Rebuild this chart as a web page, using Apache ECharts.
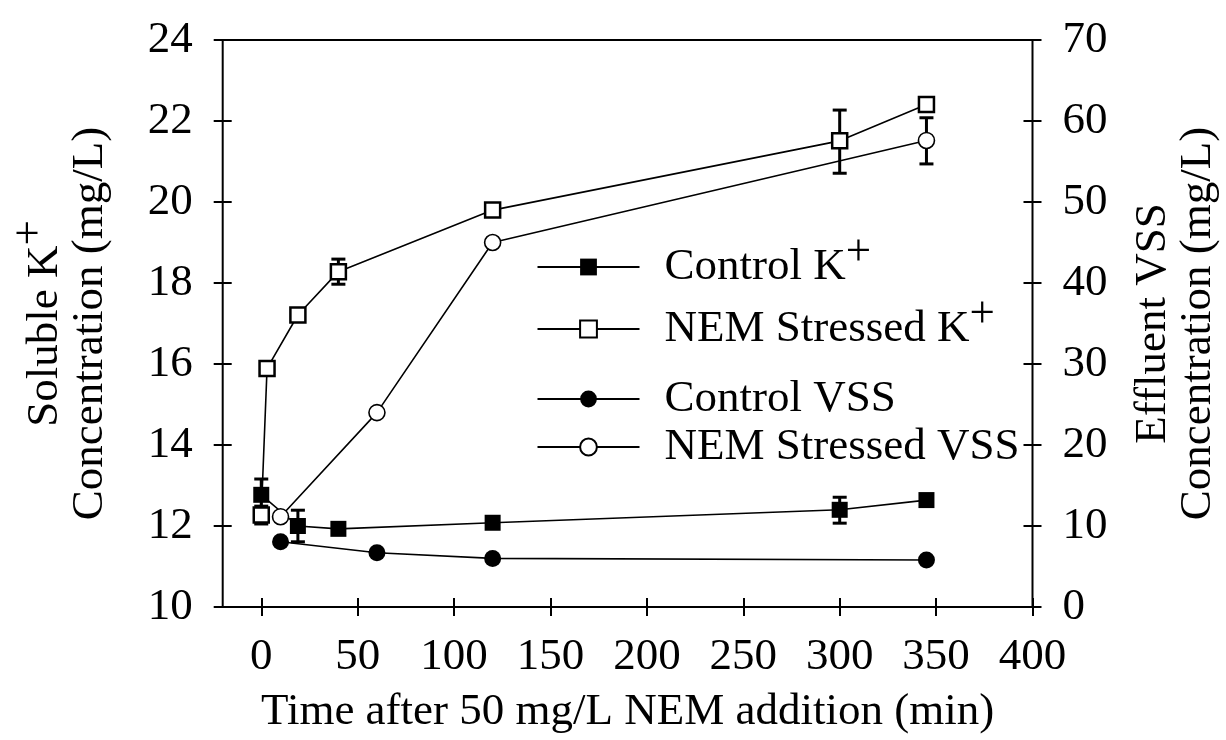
<!DOCTYPE html>
<html>
<head>
<meta charset="utf-8">
<script src="https://cdn.jsdelivr.net/npm/echarts@6/dist/echarts.min.js"></script>
<style>html,body{margin:0;padding:0;background:#fff}#c{width:1226px;height:740px}</style>
</head>
<body>
<div id="c"></div>
<script>
// ---- data ----
const xTicks = [0, 50, 100, 150, 200, 250, 300, 350, 400];
const controlK_x = [0, 19, 40, 120, 300, 345];
const controlK_y = [12.77, 12.0, 11.93, 12.08, 12.4, 12.64];
const nemK_x = [0, 3, 19, 40, 120, 300, 345];
const nemK_y = [12.27, 15.89, 17.21, 18.28, 19.8, 21.51, 22.41];
const controlVSS_x = [10, 60, 120, 345];
const controlVSS_y = [8.06, 6.7, 6.0, 5.8];
const nemVSS_x = [10, 60, 120, 345];
const nemVSS_y = [11.15, 24.0, 45.0, 57.6];
// error bars: [x, low, high]
const controlK_err = [[0, 12.39, 13.16], [19, 11.61, 12.39], [300, 12.07, 12.71]];
const nemK_err = [[0, 12.05, 12.49], [40, 17.97, 18.59], [300, 20.71, 22.27]];
const nemVSS_err = [[345, 54.7, 60.4]];
const seriesNames = ['Control K+', 'NEM Stressed K+', 'Control VSS', 'NEM Stressed VSS'];

const FONT = 'Liberation Serif';
const pair = (xs, ys) => xs.map((x, i) => [x, ys[i]]);

function errItem(params, api) {
  const x = api.value(0), lo = api.value(1), hi = api.value(2);
  const a = api.coord([x, lo]), b = api.coord([x, hi]);
  const w = 7;
  const st = { stroke: '#000', lineWidth: 3 };
  return { type: 'group', children: [
    { type: 'line', shape: { x1: a[0], y1: a[1], x2: b[0], y2: b[1] }, style: st },
    { type: 'line', shape: { x1: a[0] - w, y1: a[1], x2: a[0] + w, y2: a[1] }, style: st },
    { type: 'line', shape: { x1: b[0] - w, y1: b[1], x2: b[0] + w, y2: b[1] }, style: st }
  ]};
}

const P = 14;
const legendRich = {
  m: { fontFamily: FONT, fontSize: 45, color: '#000', padding: [0, 0, 0, 20] },
  mk: { fontFamily: FONT, fontSize: 45, color: '#000', padding: [P, 0, P, 20] },
  s: { fontFamily: FONT, fontSize: 45, color: '#000', padding: [0, 0, 2 * P, 0] }
};
const rowY = [267, 329, 399, 447];
const legends = seriesNames.map((n, i) => {
  const isK = n.endsWith('+');
  const h = isK ? 45 + 2 * P : 45;
  return {
    data: [n], left: 536.5, top: rowY[i] - h / 2, orient: 'vertical', padding: 0,
    itemWidth: 102, itemHeight: 21, selectedMode: false,
    formatter: nm => nm.endsWith('+') ? '{mk|' + nm.slice(0, -1) + '}{s|+}' : '{m|' + nm + '}',
    textStyle: { fontFamily: FONT, fontSize: 45, color: '#000', rich: legendRich }
  };
});

const tickStyle = { color: '#000', width: 2 };
const labelStyle = { fontFamily: FONT, fontSize: 45, color: '#000' };
const noLine = { show: false, onZero: false };

const option = {
  animation: false,
  backgroundColor: '#fff',
  legend: legends,
  grid: { left: 222.7, right: 193.5, top: 40, bottom: 133, show: true, borderColor: '#000', borderWidth: 2, backgroundColor: 'transparent', containLabel: false, outerBoundsMode: 'none' },
  xAxis: [
    { type: 'value', position: 'bottom', min: -20, max: 400,
      axisLine: noLine, splitLine: { show: false },
      axisTick: { show: true, inside: false, length: 9, lineStyle: tickStyle, customValues: xTicks },
      axisLabel: Object.assign({ margin: 28, customValues: xTicks }, labelStyle),
      name: 'Time after 50 mg/L NEM addition (min)', nameLocation: 'middle', nameGap: 83,
      nameTextStyle: labelStyle },
    { type: 'value', position: 'bottom', min: -20, max: 400,
      axisLine: noLine, splitLine: { show: false },
      axisTick: { show: true, inside: true, length: 9, lineStyle: tickStyle, customValues: xTicks },
      axisLabel: { show: false } }
  ],
  yAxis: [
    { type: 'value', position: 'left', min: 10, max: 24, interval: 2,
      axisLine: noLine, splitLine: { show: false },
      axisTick: { show: true, inside: false, length: 9, lineStyle: tickStyle },
      axisLabel: Object.assign({ margin: 30 }, labelStyle),
      name: '{a|Soluble K}{s|+}\n{b|Concentration (mg/L)}', nameLocation: 'middle', nameGap: 110, nameRotate: 90,
      nameTextStyle: Object.assign({ rich: {
        a: { fontFamily: FONT, fontSize: 45, color: '#000', lineHeight: 45, verticalAlign: 'bottom' },
        s: { fontFamily: FONT, fontSize: 45, color: '#000', lineHeight: 45, padding: [0, 0, 31, 0] },
        b: { fontFamily: FONT, fontSize: 45, color: '#000', lineHeight: 45 } } }, labelStyle) },
    { type: 'value', position: 'right', min: 0, max: 70, interval: 10,
      axisLine: noLine, splitLine: { show: false },
      axisTick: { show: true, inside: false, length: 9, lineStyle: tickStyle },
      axisLabel: Object.assign({ margin: 30 }, labelStyle),
      name: '{a|Effluent VSS}\n{b|Concentration (mg/L)}', nameLocation: 'middle', nameGap: 98, nameRotate: 90,
      nameTextStyle: Object.assign({ rich: {
        a: { fontFamily: FONT, fontSize: 45, color: '#000', lineHeight: 45 },
        b: { fontFamily: FONT, fontSize: 45, color: '#000', lineHeight: 45 } } }, labelStyle) },
    { type: 'value', position: 'left', min: 10, max: 24, interval: 2,
      axisLine: noLine, splitLine: { show: false },
      axisTick: { show: true, inside: true, length: 9, lineStyle: tickStyle }, axisLabel: { show: false } },
    { type: 'value', position: 'right', min: 0, max: 70, interval: 10,
      axisLine: noLine, splitLine: { show: false },
      axisTick: { show: true, inside: true, length: 9, lineStyle: tickStyle }, axisLabel: { show: false } }
  ],
  series: [
    { type: 'custom', xAxisIndex: 0, yAxisIndex: 0, z: 1, renderItem: errItem, data: controlK_err, encode: { x: 0, y: [1, 2] }, silent: true },
    { type: 'custom', xAxisIndex: 0, yAxisIndex: 0, z: 1, renderItem: errItem, data: nemK_err, encode: { x: 0, y: [1, 2] }, silent: true },
    { type: 'custom', xAxisIndex: 0, yAxisIndex: 1, z: 1, renderItem: errItem, data: nemVSS_err, encode: { x: 0, y: [1, 2] }, silent: true },
    { name: seriesNames[0], type: 'line', xAxisIndex: 0, yAxisIndex: 0, data: pair(controlK_x, controlK_y),
      symbol: 'rect', symbolSize: 16, itemStyle: { color: '#000', borderColor: '#000', borderWidth: 0 },
      lineStyle: { color: '#000', width: 1.6 } },
    { name: seriesNames[1], type: 'line', xAxisIndex: 0, yAxisIndex: 0, data: pair(nemK_x, nemK_y),
      symbol: 'rect', symbolSize: 15, itemStyle: { color: '#fff', borderColor: '#000', borderWidth: 2.5 },
      lineStyle: { color: '#000', width: 1.6 } },
    { name: seriesNames[2], type: 'line', xAxisIndex: 0, yAxisIndex: 1, data: pair(controlVSS_x, controlVSS_y),
      symbol: 'circle', symbolSize: 17, itemStyle: { color: '#000', borderColor: '#000', borderWidth: 0 },
      lineStyle: { color: '#000', width: 1.6 } },
    { name: seriesNames[3], type: 'line', xAxisIndex: 0, yAxisIndex: 1, data: pair(nemVSS_x, nemVSS_y),
      symbol: 'circle', symbolSize: 16, itemStyle: { color: '#fff', borderColor: '#000', borderWidth: 1.6 },
      lineStyle: { color: '#000', width: 1.6 } }
  ]
};
const chart = echarts.init(document.getElementById('c'), null, { renderer: 'canvas' });
chart.setOption(option);
</script>
</body>
</html>
